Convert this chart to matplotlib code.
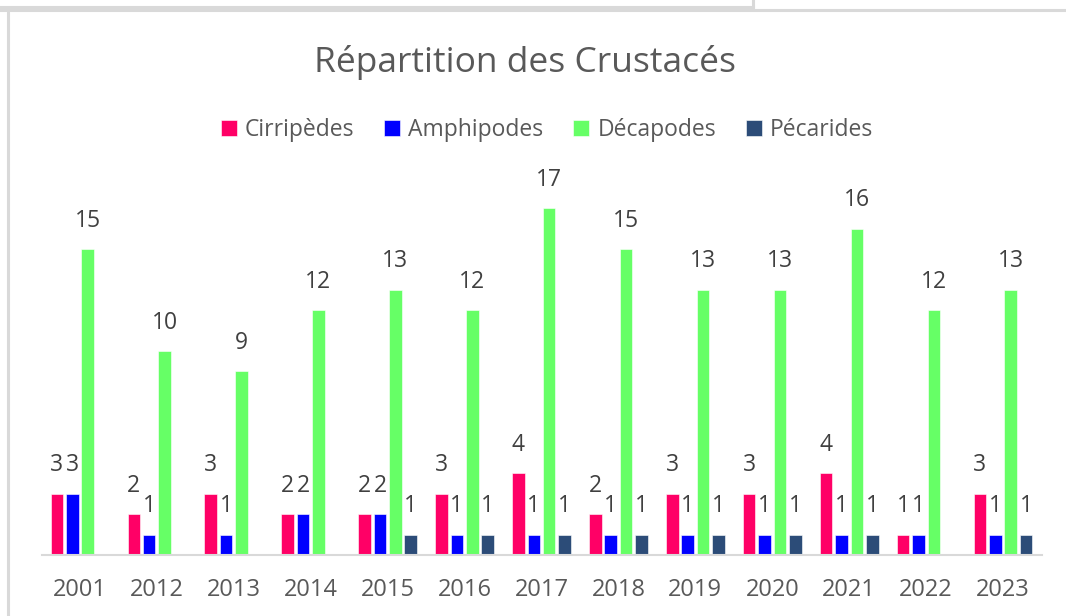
import numpy as np
import matplotlib.pyplot as plt
from matplotlib.lines import Line2D

plt.rcParams['font.family'] = ['Open Sans', 'DejaVu Sans']

years = ['2001', '2012', '2013', '2014', '2015', '2016', '2017',
         '2018', '2019', '2020', '2021', '2022', '2023']
cirripedes = [3, 2, 3, 2, 2, 3, 4, 2, 3, 3, 4, 1, 3]
amphipodes = [3, 1, 1, 2, 2, 1, 1, 1, 1, 1, 1, 1, 1]
decapodes = [15, 10, 9, 12, 13, 12, 17, 15, 13, 13, 16, 12, 13]
pecarides = [None, None, None, None, 1, 1, 1, 1, 1, 1, 1, None, 1]

series = [
    ('Cirripèdes', cirripedes, '#FF0066'),
    ('Amphipodes', amphipodes, '#0000FF'),
    ('Décapodes', decapodes, '#66FF66'),
    ('Pécarides', pecarides, '#2C4C78'),
]

W, H = 1066, 616
fig = plt.figure(figsize=(W / 100, H / 100), dpi=100)

# plot area in pixels: left, bottom-from-top, right, top-from-top
left, right, top, base = 41.5, 1041.5, 147, 555
ax = fig.add_axes([left / W, 1 - base / H, (right - left) / W, (base - top) / H])

x = np.arange(len(years))
step = 0.2
width = 0.163
for i, (name, vals, col) in enumerate(series):
    v = np.array([np.nan if a is None else a for a in vals], dtype=float)
    pos = x + (i - 1.5) * step
    ax.bar(pos, v, width, color=col, label=name, edgecolor='white', linewidth=0.4)
    for px, val in zip(pos, v):
        if np.isnan(val):
            continue
        ax.annotate(f'{int(val)}', (px, val), xytext=(0, 20.5), textcoords='offset points',
                    ha='center', va='center', fontsize=16.5, color='#404040')

ax.set_xlim(-0.5, len(years) - 0.5)
ax.set_ylim(0, 20)
ax.set_xticks(x)
ax.set_xticklabels(years, fontsize=17, color='#595959')
ax.tick_params(axis='x', length=0, pad=16.5)
ax.set_yticks([])
for s in ['left', 'right', 'top']:
    ax.spines[s].set_visible(False)
ax.spines['bottom'].set_color('#d9d9d9')
ax.spines['bottom'].set_linewidth(1.5)

fig.text(525 / W, 1 - 63 / H, 'Répartition des Crustacés', ha='center', va='center',
         fontsize=25.5, color='#595959')

fig.legend(loc='center', bbox_to_anchor=(547 / W, 1 - 130 / H), ncol=4, frameon=False,
           fontsize=16.5, labelcolor='#595959', handlelength=0.7, handleheight=0.7,
           handletextpad=0.35, columnspacing=1.3)

# window borders around the chart
grey = '#d9d9d9'
def fline(xs, ys):
    fig.add_artist(Line2D([a / W for a in xs], [1 - b / H for b in ys],
                          color=grey, lw=2.2, transform=fig.transFigure))

fline([0, 753], [7, 7])
fline([753, 753], [0, 8])
fline([0, W], [10, 10])
fline([8, 8], [10, H])

fig.savefig('out.png', dpi=100)
